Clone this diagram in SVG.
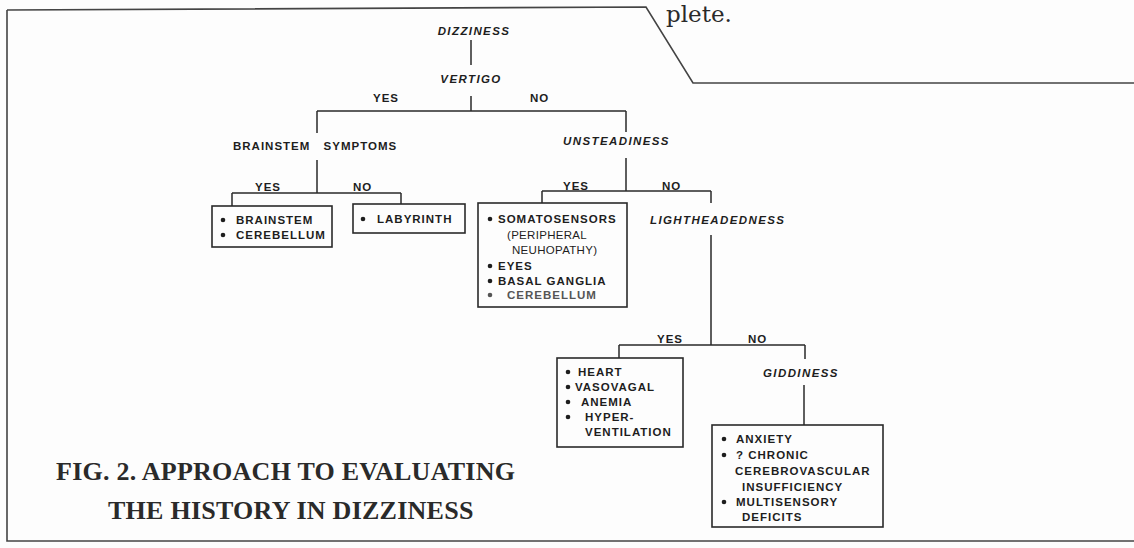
<svg xmlns="http://www.w3.org/2000/svg" width="1134" height="548" viewBox="0 0 1134 548">
<style>
.bg{fill:#fdfdfd}
.frame{fill:none;stroke:#444;stroke-width:1.6}
.ln{fill:none;stroke:#2a2a2a;stroke-width:1.5}
.box{fill:#fdfdfd;stroke:#2a2a2a;stroke-width:1.6}
.t{font-family:"Liberation Sans",Arial,sans-serif;font-size:11.5px;font-weight:bold;fill:#1e1e1e;letter-spacing:1px}
.i{font-style:italic;letter-spacing:1.4px}
.l{font-weight:normal;letter-spacing:0.3px}
.g{fill:#555}
.b{fill:#1e1e1e}
.cap{font-family:"Liberation Serif","Times New Roman",serif;font-size:26px;font-weight:bold;fill:#2a2a2a;letter-spacing:0.25px}
.pl{font-family:"DejaVu Serif",serif;font-size:23px;fill:#2a2a2a}
</style>
<rect class="bg" x="0" y="0" width="1134" height="548"/>
<g id="frame">
<path class="frame" d="M7,10 L646,7 L693,83 L1134,83"/>
<path class="frame" d="M7,10 V541 H1134"/>
<text class="pl" x="666" y="22">plete.</text>
</g>
<g id="connectors">
<path class="ln" d="M471,40 V65"/>
<path class="ln" d="M471,96 V111 M317,111 H626 M317,111 V133 M626,111 V132"/>
<path class="ln" d="M317,160 V193 M232,193 H401 M232,193 V206 M401,193 V204"/>
<path class="ln" d="M626,158 V191 M542,191 H711 M542,191 V203 M711,191 V203"/>
<path class="ln" d="M711,235 V345 M619,345 H805 M619,345 V358 M805,345 V359"/>
<path class="ln" d="M804,385 V425"/>
<text class="t" x="373" y="102">YES</text>
<text class="t" x="530" y="102">NO</text>
<text class="t" x="255" y="191">YES</text>
<text class="t" x="353" y="191">NO</text>
<text class="t" x="563" y="190">YES</text>
<text class="t" x="662" y="190">NO</text>
<text class="t" x="657" y="343">YES</text>
<text class="t" x="748" y="343">NO</text>
</g>
<g id="dizziness"><text class="t i" x="474" y="35" text-anchor="middle">DIZZINESS</text></g>
<g id="vertigo"><text class="t i" x="471" y="83" text-anchor="middle">VERTIGO</text></g>
<g id="brainstem-symptoms"><text class="t" x="233" y="150" word-spacing="9">BRAINSTEM SYMPTOMS</text></g>
<g id="unsteadiness"><text class="t i" x="563" y="145">UNSTEADINESS</text></g>
<g id="lightheadedness"><text class="t i" x="650" y="224">LIGHTHEADEDNESS</text></g>
<g id="giddiness"><text class="t i" x="763" y="377">GIDDINESS</text></g>
<g id="box-central">
<rect class="box" x="212" y="206" width="120" height="41"/>
<circle class="b" cx="223" cy="220" r="2.3"/><text class="t" x="236" y="224">BRAINSTEM</text>
<circle class="b" cx="223" cy="235" r="2.3"/><text class="t" x="236" y="239">CEREBELLUM</text>
</g>
<g id="box-labyrinth">
<rect class="box" x="353" y="204" width="112" height="29"/>
<circle class="b" cx="363" cy="219" r="2.3"/><text class="t" x="377" y="223">LABYRINTH</text>
</g>
<g id="box-unsteady">
<rect class="box" x="478" y="203" width="149" height="104"/>
<circle class="b" cx="490" cy="219" r="2.3"/><text class="t" x="498" y="223">SOMATOSENSORS</text>
<text class="t l" x="507" y="239">(PERIPHERAL</text>
<text class="t l" x="512" y="254">NEUHOPATHY)</text>
<circle class="b" cx="490" cy="266" r="2.3"/><text class="t" x="498" y="270">EYES</text>
<circle class="b" cx="490" cy="281" r="2.3"/><text class="t" x="498" y="285">BASAL GANGLIA</text>
<circle class="g" cx="490" cy="295" r="2.3"/><text class="t g" x="507" y="299">CEREBELLUM</text>
</g>
<g id="box-light">
<rect class="box" x="557" y="358" width="126" height="89"/>
<circle class="b" cx="568" cy="372" r="2.3"/><text class="t" x="578" y="376">HEART</text>
<circle class="b" cx="568" cy="387" r="2.3"/><text class="t" x="575" y="391">VASOVAGAL</text>
<circle class="b" cx="568" cy="402" r="2.3"/><text class="t" x="581" y="406">ANEMIA</text>
<circle class="b" cx="568" cy="417" r="2.3"/><text class="t" x="585" y="421">HYPER-</text>
<text class="t" x="585" y="436">VENTILATION</text>
</g>
<g id="box-giddy">
<rect class="box" x="712" y="425" width="171" height="102"/>
<circle class="b" cx="724" cy="439" r="2.3"/><text class="t" x="736" y="443">ANXIETY</text>
<circle class="b" cx="724" cy="455" r="2.3"/><text class="t" x="736" y="459">? CHRONIC</text>
<text class="t" x="735" y="475">CEREBROVASCULAR</text>
<text class="t" x="742" y="491">INSUFFICIENCY</text>
<circle class="b" cx="724" cy="502" r="2.3"/><text class="t" x="736" y="506">MULTISENSORY</text>
<text class="t" x="742" y="521">DEFICITS</text>
</g>
<g id="caption">
<text class="cap" x="56" y="480">FIG. 2. APPROACH TO EVALUATING</text>
<text class="cap" x="108" y="519">THE HISTORY IN DIZZINESS</text>
</g>
</svg>
